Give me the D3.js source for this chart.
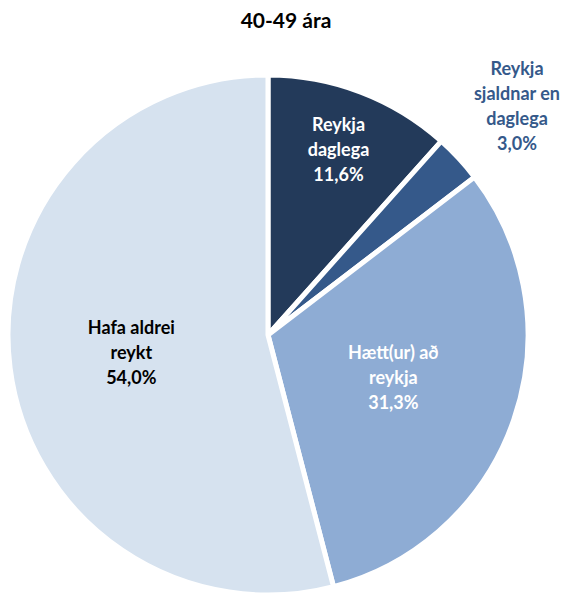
<!DOCTYPE html>
<html>
<head>
<meta charset="utf-8">
<script src="https://cdn.jsdelivr.net/npm/d3@7"></script>
<style>
  body { margin: 0; background: #fff; }
  svg text { font-family: Lato, "Open Sans", sans-serif; font-weight: bold; }
</style>
</head>
<body>
<svg id="chart" width="566" height="597"></svg>
<script>
const title = "40-49 ára";
const categories = ["Reykja daglega", "Reykja sjaldnar en daglega", "Hætt(ur) að reykja", "Hafa aldrei reykt"];
const values = [11.6, 3.0, 31.3, 54.0];
const colors = ["#233a5a", "#35598a", "#8eacd4", "#d6e2ef"];
// label lines for each slice (text split as in the picture)
const labelLines = [
  ["Reykja", "daglega"],
  ["Reykja", "sjaldnar en", "daglega"],
  ["Hætt(ur) að", "reykja"],
  ["Hafa aldrei", "reykt"]
];

const svg = d3.select("#chart");
const cx = 268, cy = 335, r = 260;

svg.append("text")
  .attr("x", 286).attr("y", 28)
  .attr("text-anchor", "middle")
  .attr("font-size", 21)
  .attr("fill", "#000")
  .text(title);

const data = categories.map((c, i) => ({ name: c, value: values[i], i: i }));

const pie = d3.pie().value(d => d.value).sort(null);
const arc = d3.arc().innerRadius(0).outerRadius(r);
const arcs = pie(data);

const g = svg.append("g").attr("transform", `translate(${cx},${cy})`);

g.selectAll("path.slice")
  .data(arcs)
  .enter().append("path")
  .attr("class", "slice")
  .attr("d", arc)
  .attr("fill", d => colors[d.data.i])
  .attr("stroke", "#fff")
  .attr("stroke-width", 5)
  .attr("stroke-linejoin", "miter");

const fmt = v => d3.format(".1f")(v).replace(".", ",") + "%";

// label placement: fraction of radius for inside labels, outside one for the small slice
const labelPos = [0.76, 1.0, 0.51, 0.53];
const labelColor = ["#fff", "#35598a", "#fff", "#000"];
const lineH = 25;

arcs.forEach((d, k) => {
  const mid = (d.startAngle + d.endAngle) / 2;
  let px, py;
  if (k === 1) {
    px = 517 - cx; py = 106 - cy;
  } else {
    const rr = r * labelPos[k];
    px = Math.sin(mid) * rr;
    py = -Math.cos(mid) * rr;
  }
  const lines = labelLines[k].concat([fmt(d.data.value)]);
  const t = g.append("text")
    .attr("text-anchor", "middle")
    .attr("font-size", 18)
    .attr("fill", labelColor[k]);
  lines.forEach((ln, j) => {
    t.append("tspan")
      .attr("x", px)
      .attr("y", py + (j - (lines.length - 1) / 2) * lineH + 6)
      .text(ln);
  });
});
</script>
</body>
</html>
